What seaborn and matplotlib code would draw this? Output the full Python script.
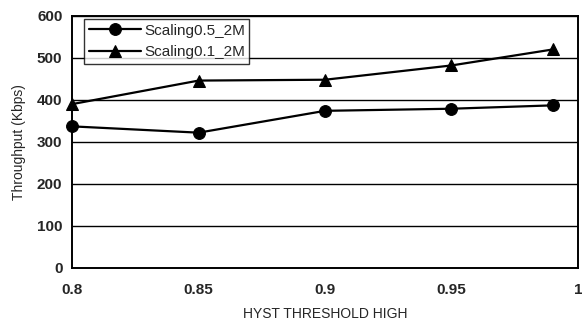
import matplotlib
matplotlib.use("Agg")
import matplotlib.pyplot as plt
import seaborn as sns
import pandas as pd

x_vals = [0.8, 0.85, 0.9, 0.95, 0.99]
s05 = [337, 322, 374, 379, 387]
s01 = [390, 446, 448, 482, 520]
series_names = ["Scaling0.5_2M", "Scaling0.1_2M"]
x_ticks = [0.8, 0.85, 0.9, 0.95, 1.0]
x_tick_labels = ["0.8", "0.85", "0.9", "0.95", "1"]
y_ticks = [0, 100, 200, 300, 400, 500, 600]

df = pd.DataFrame({
    "x": x_vals * 2,
    "y": s05 + s01,
    "series": [series_names[0]] * len(x_vals) + [series_names[1]] * len(x_vals),
})

sns.set_style("white")
plt.rcParams["font.family"] = ["Liberation Sans", "DejaVu Sans"]

fig = plt.figure(figsize=(5.82, 3.24), dpi=100)
ax = fig.add_axes([0.124, 0.173, 0.869, 0.778])

sns.lineplot(data=df, x="x", y="y", hue="series", style="series",
             markers={series_names[0]: "o", series_names[1]: "^"}, dashes=False,
             palette={series_names[0]: "black", series_names[1]: "black"},
             markersize=8.5, linewidth=1.6, markeredgecolor="black", ax=ax,
             clip_on=False)

ax.set_xlim(0.8, 1.0)
ax.set_ylim(0, 600)
ax.set_yticks(y_ticks)
ax.set_xticks(x_ticks)
ax.set_xticklabels(x_tick_labels)
for yv in y_ticks[1:]:
    ax.axhline(yv, color="black", linewidth=1.0, zorder=0)
for s in ax.spines.values():
    s.set_color("black")
    s.set_linewidth(1.4)
ax.tick_params(axis="x", direction="in", length=4, pad=11, labelsize=11)
ax.tick_params(axis="y", length=0, pad=7, labelsize=11)
for lbl in ax.get_xticklabels() + ax.get_yticklabels():
    lbl.set_fontweight("bold")
ax.set_xlabel("HYST THRESHOLD HIGH", fontsize=10, labelpad=7)
ax.set_ylabel("Throughput (Kbps)", fontsize=10, labelpad=8)

leg = ax.legend(loc="upper left", bbox_to_anchor=(0.018, 1.0), frameon=True,
                fancybox=False, edgecolor="black", fontsize=11,
                handlelength=3.4, borderpad=0.3, labelspacing=0.5,
                borderaxespad=0.2, handletextpad=0.2)
leg.get_frame().set_linewidth(1.0)

fig.savefig("out.png", dpi=100)
